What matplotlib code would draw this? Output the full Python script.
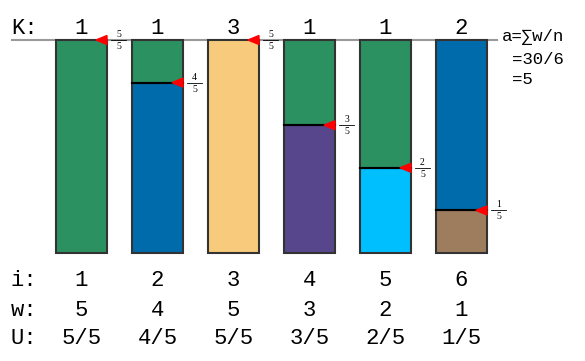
import matplotlib.pyplot as plt
from matplotlib.patches import Polygon

# data
idx = [1, 2, 3, 4, 5, 6]
K = [1, 1, 3, 1, 1, 2]
w = [5, 4, 5, 3, 2, 1]
U = ["5/5", "4/5", "5/5", "3/5", "2/5", "1/5"]
a = 5
own_col = ["#2b9160", "#006bab", "#f7cb7b", "#58468c", "#00bfff", "#9e7d5e"]
top_col = [None, "#2b9160", None, "#2b9160", "#2b9160", "#006bab"]

mono = ["Liberation Mono", "DejaVu Sans Mono"]
serif = ["Liberation Serif", "DejaVu Serif"]

fig = plt.figure(figsize=(5.85, 3.61), dpi=100)
ax = fig.add_axes([0, 0, 1, 1])
ax.axis("off")

# pixel -> data helpers
sx, ox = 76.0, 5.5
sy, oy = 42.6, 253.0
def px(x):
    return (x - ox) / sx
def py(y):
    return (oy - y) / sy

ax.set_xlim(px(0), px(585))
ax.set_ylim(py(361), py(0))

bw = 51 / sx
ax.plot([px(12), px(497)], [a, a], color="#9a9a9a", lw=1.5, zorder=1)

for i, wi, c, tc in zip(idx, w, own_col, top_col):
    ax.bar(i, wi, bw, bottom=0, color=c, edgecolor="#333333", lw=1.5, zorder=2)
    if wi < a:
        ax.bar(i, a - wi, bw, bottom=wi, color=tc, edgecolor="#333333", lw=1.5, zorder=2)
        ax.plot([i - bw / 2, i + bw / 2], [wi, wi], color="black", lw=1.5, zorder=3)
    xr = i + bw / 2
    tri = Polygon([[xr, wi + 4.5 / sy], [xr, wi - 4.5 / sy], [xr - 11 / sx, wi]],
                  closed=True, color="red", zorder=4)
    ax.add_patch(tri)
    # fraction label
    fx0, fx1 = xr + 4 / sx, xr + 19 / sx
    ax.plot([fx0, fx1], [wi, wi], color="black", lw=0.6, zorder=3)
    fxc = (fx0 + fx1) / 2
    ax.text(fxc, wi + 5.5 / sy, str(wi), family=serif, fontsize=7, ha="center", va="center")
    ax.text(fxc, wi - 6.5 / sy, str(a), family=serif, fontsize=7, ha="center", va="center")

fs = 16
ax.text(px(11), py(28), "K:", family=mono, fontsize=fs, ha="left", va="center")
ax.text(px(11), py(281), "i:", family=mono, fontsize=fs, ha="left", va="center")
ax.text(px(11), py(310), "w:", family=mono, fontsize=fs, ha="left", va="center")
ax.text(px(11), py(339), "U:", family=mono, fontsize=fs, ha="left", va="center")
for i, k, wi, u in zip(idx, K, w, U):
    ax.text(i, py(28), str(k), family=mono, fontsize=fs, ha="center", va="center")
    ax.text(i, py(281), str(i), family=mono, fontsize=fs, ha="center", va="center")
    ax.text(i, py(310), str(wi), family=mono, fontsize=fs, ha="center", va="center")
    ax.text(i, py(339), u, family=mono, fontsize=fs, ha="center", va="center")

ax.text(px(502), py(37), "a=\u2211w/n", family=mono, fontsize=12.5, ha="left", va="center")
ax.text(px(512), py(59), "=30/6", family=mono, fontsize=12.5, ha="left", va="center")
ax.text(px(512), py(80), "=5", family=mono, fontsize=12.5, ha="left", va="center")

fig.savefig("out.png", dpi=100)
